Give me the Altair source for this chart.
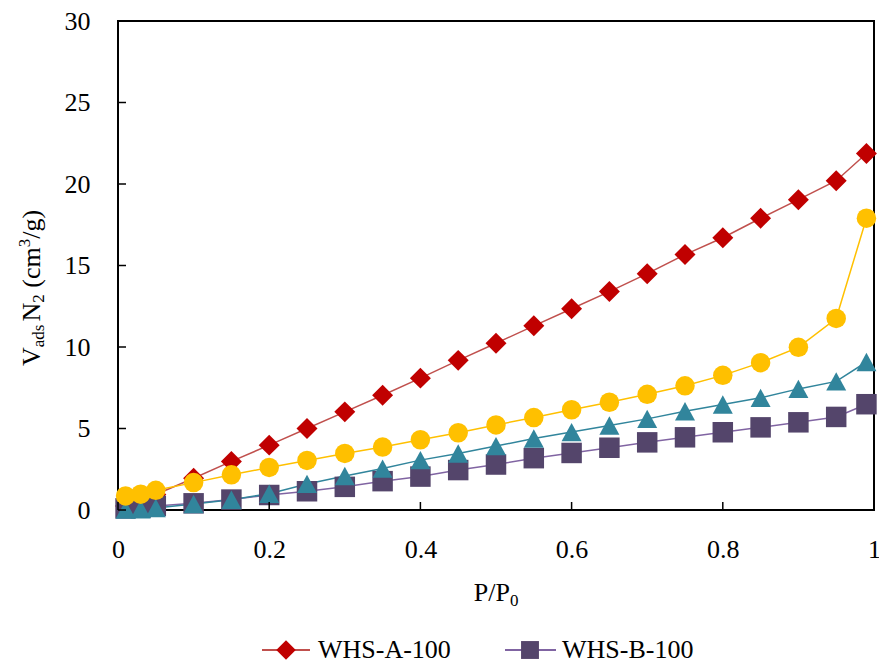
import altair as alt
import pandas as pd

# Relative pressure points (P/P0)
p_rel = [0.01, 0.03, 0.05, 0.10, 0.15, 0.20, 0.25, 0.30, 0.35, 0.40, 0.45,
         0.50, 0.55, 0.60, 0.65, 0.70, 0.75, 0.80, 0.85, 0.90, 0.95, 0.99]

# Adsorbed N2 volume (cm3/g) per sample
whs_a = [0.25, 0.60, 0.95, 1.95, 2.98, 3.98, 5.00, 6.02, 7.04, 8.09, 9.18,
         10.23, 11.30, 12.35, 13.40, 14.50, 15.67, 16.70, 17.90, 19.04, 20.20, 21.87]
whs_b = [0.10, 0.15, 0.25, 0.41, 0.64, 0.92, 1.15, 1.42, 1.77, 2.05, 2.45,
         2.79, 3.18, 3.50, 3.82, 4.15, 4.46, 4.77, 5.07, 5.38, 5.71, 6.49]
whs_c = [0.02, 0.05, 0.12, 0.37, 0.63, 1.00, 1.60, 2.09, 2.54, 3.06, 3.47,
         3.92, 4.39, 4.78, 5.18, 5.59, 6.06, 6.47, 6.88, 7.43, 7.89, 9.08]
whs_d = [0.86, 0.97, 1.21, 1.68, 2.16, 2.61, 3.04, 3.47, 3.86, 4.31, 4.74,
         5.22, 5.67, 6.15, 6.61, 7.10, 7.62, 8.26, 9.04, 9.98, 11.75, 17.90]

series_names = ["WHS-A-100", "WHS-B-100", "WHS-C-100", "WHS-D-100"]
series_values = [whs_a, whs_b, whs_c, whs_d]

x_ticks = [0, 0.2, 0.4, 0.6, 0.8, 1.0]
y_ticks = [0, 5, 10, 15, 20, 25, 30]

line_colors = ["#C0504D", "#8064A2", "#31859C", "#FFC000"]
marker_colors = ["#C00000", "#54456B", "#31859C", "#FFC000"]
marker_shapes = ["diamond", "square", "M0,-0.92L1,0.92L-1,0.92Z", "circle"]
marker_sizes = [440, 380, 480, 420]

FONT = "Liberation Serif"
W, H = 756, 489

rows = []
for k, (name, vals) in enumerate(zip(series_names, series_values)):
    for p, v in zip(p_rel, vals):
        rows.append({"series": name, "k": k, "p": p, "v": v})
df = pd.DataFrame(rows)

xs = alt.Scale(domain=[0, 1], nice=False, zero=False)
ys = alt.Scale(domain=[0, 30], nice=False)

x_enc = alt.X("p:Q", scale=xs, title=None,
              axis=alt.Axis(values=x_ticks, format="~g", ticks=False, tickSize=0,
                            domain=False, grid=False, labelPadding=26, labelFlush=False,
                            labelFontSize=26, labelFont=FONT, labelColor="black"))
y_enc = alt.Y("v:Q", scale=ys, title=None,
              axis=alt.Axis(values=y_ticks, ticks=False, tickSize=0, domain=False,
                            grid=False, labelPadding=28, labelFlush=False, labelFontSize=26,
                            labelFont=FONT, labelColor="black"))

base = alt.Chart(df)

lines = base.mark_line(strokeWidth=1.5).encode(
    x=x_enc, y=y_enc,
    color=alt.Color("series:N", scale=alt.Scale(domain=series_names, range=line_colors), legend=None),
    order="p:Q",
)

points = base.mark_point(filled=True, opacity=1, strokeWidth=0).encode(
    x=alt.X("p:Q", scale=xs),
    y=alt.Y("v:Q", scale=ys),
    fill=alt.Fill("series:N", scale=alt.Scale(domain=series_names, range=marker_colors), legend=None),
    shape=alt.Shape("series:N", scale=alt.Scale(domain=series_names, range=marker_shapes), legend=None),
    size=alt.Size("series:N", scale=alt.Scale(domain=series_names, range=marker_sizes), legend=None),
    order=alt.Order("k:Q"),
)

# Inward tick marks on both axes
xtick = alt.Chart(pd.DataFrame({"t": x_ticks})).mark_rule(color="black", strokeWidth=1.5).encode(
    x=alt.X("t:Q", scale=xs), y=alt.value(H), y2=alt.value(H - 8))
ytick = alt.Chart(pd.DataFrame({"t": y_ticks})).mark_rule(color="black", strokeWidth=1.5).encode(
    y=alt.Y("t:Q", scale=ys), x=alt.value(0), x2=alt.value(8))


def label(txt, x, y, size=26, angle=0, align="left"):
    return alt.Chart(pd.DataFrame({"s": [txt]})).mark_text(
        font=FONT, fontSize=size, angle=angle, align=align, baseline="alphabetic",
        color="black").encode(text="s:N", x=alt.value(x), y=alt.value(y))


# Axis titles with sub/superscripts
xt_x = 392
x_title = [
    label("P/P", xt_x, 580, align="right"),
    label("0", xt_x, 585, size=17),
]

# (text, font size, baseline x, gap before, advance)
pieces = [("V", 26, -78, 0, 18.8), ("ads", 17, -74, 0, 22.7), ("N", 26, -78, 3, 18.8),
          ("2", 17, -74, 0, 8.5), ("(cm", 26, -78, 6.5, 40.4), ("3", 17, -88, 0, 8.5),
          ("/g)", 26, -78, 0, 28.9)]
ty = 345
y_title = []
for txt, sz, bx, gap, adv in pieces:
    ty -= gap
    y_title.append(label(txt, bx, ty, size=sz, angle=270))
    ty -= adv

# Legend entries
leg_y = 629
one = pd.DataFrame({"a": [0]})
legend = [
    alt.Chart(one).mark_rule(color=line_colors[0], strokeWidth=2).encode(
        x=alt.value(144), x2=alt.value(192), y=alt.value(leg_y)),
    alt.Chart(one).mark_point(filled=True, opacity=1, shape="diamond", size=380,
                              color=marker_colors[0]).encode(x=alt.value(168), y=alt.value(leg_y)),
    label("WHS-A-100", 200, 637),
    alt.Chart(one).mark_rule(color=line_colors[1], strokeWidth=2).encode(
        x=alt.value(387), x2=alt.value(438), y=alt.value(leg_y)),
    alt.Chart(one).mark_point(filled=True, opacity=1, shape="square", size=320,
                              color=marker_colors[1]).encode(x=alt.value(412), y=alt.value(leg_y)),
    label("WHS-B-100", 444, 637),
]

chart = alt.layer(lines, points, xtick, ytick, *x_title, *y_title, *legend).properties(
    width=W, height=H,
    autosize=alt.AutoSizeParams(type="none"),
    padding={"left": 118, "top": 21, "right": 5, "bottom": 154},
    background="white",
).configure_view(stroke="black", strokeWidth=2).configure_text(font=FONT)

chart.save("out.html", embed_options={"renderer": "svg", "actions": False})
